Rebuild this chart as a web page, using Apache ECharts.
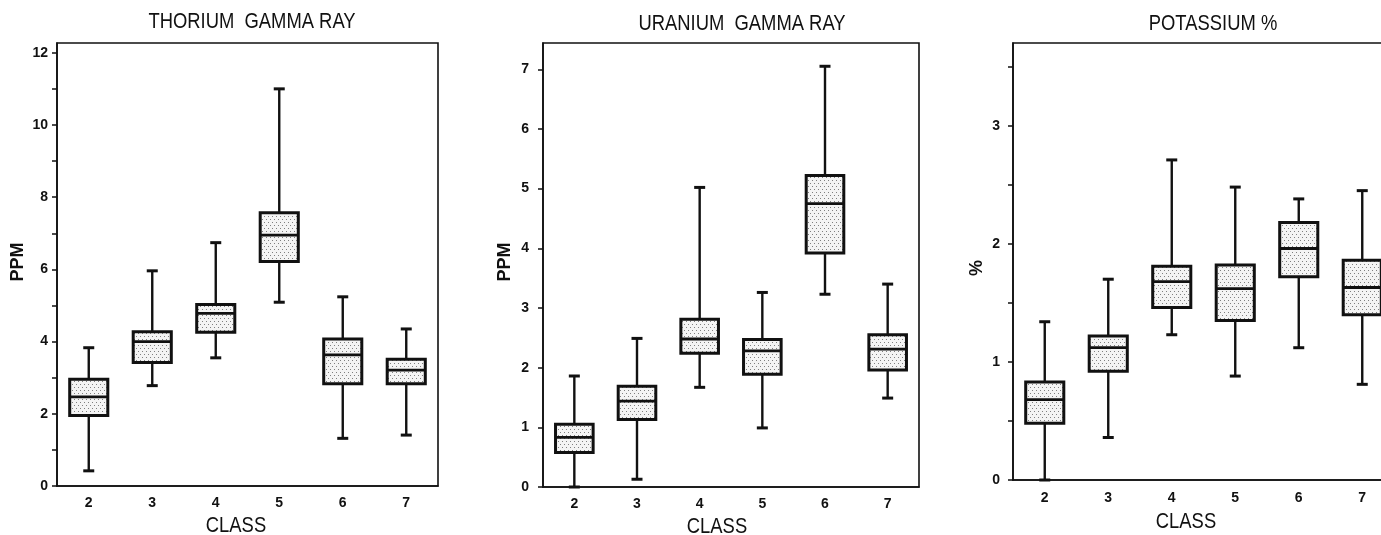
<!DOCTYPE html>
<html><head><meta charset="utf-8">
<script src="https://cdn.jsdelivr.net/npm/echarts@6/dist/echarts.min.js"></script>
<style>html,body{margin:0;padding:0;background:#fff}#c{width:1381px;height:535px}</style>
</head><body><div id="c"></div>
<script>
// Classes on the x axis
const classes = ['2', '3', '4', '5', '6', '7'];
// Each row: [low whisker, Q1, median, Q3, high whisker]
const thorium = [
  [0.42, 1.95, 2.47, 2.96, 3.83],
  [2.78, 3.42, 4.00, 4.27, 5.96],
  [3.55, 4.26, 4.78, 5.03, 6.74],
  [5.09, 6.22, 6.95, 7.57, 11.0],
  [1.32, 2.83, 3.63, 4.07, 5.24],
  [1.41, 2.83, 3.21, 3.51, 4.35]
];
const uranium = [
  [0.00, 0.58, 0.83, 1.05, 1.86],
  [0.13, 1.13, 1.44, 1.69, 2.49],
  [1.67, 2.24, 2.48, 2.81, 5.02],
  [0.99, 1.89, 2.28, 2.47, 3.26],
  [3.23, 3.92, 4.75, 5.22, 7.05],
  [1.49, 1.96, 2.31, 2.55, 3.40]
];
const potassium = [
  [0.00, 0.48, 0.68, 0.83, 1.34],
  [0.36, 0.92, 1.12, 1.22, 1.70],
  [1.23, 1.46, 1.68, 1.81, 2.71],
  [0.88, 1.35, 1.62, 1.82, 2.48],
  [1.12, 1.72, 1.96, 2.18, 2.38],
  [0.81, 1.40, 1.63, 1.86, 2.45]
];
// Tick values and tick labels
const thoriumTicks = [0,1,2,3,4,5,6,7,8,9,10,11,12];
const thoriumLabels = [0,2,4,6,8,10,12];
const uraniumTicks = [0,1,2,3,4,5,6,7];
const uraniumLabels = [0,1,2,3,4,5,6,7];
const potassiumTicks = [0,0.5,1,1.5,2,2.5,3,3.5];
const potassiumLabels = [0,1,2,3];
const titles = ['THORIUM  GAMMA RAY', 'URANIUM  GAMMA RAY', 'POTASSIUM %'];
const yNames = ['PPM', 'PPM', '%'];
const xName = 'CLASS';

const ink = '#111';
const FONT = '"Liberation Sans", Arial, Helvetica, sans-serif';

// stipple fill pattern
const pc = document.createElement('canvas');
pc.width = 4; pc.height = 6;
const pctx = pc.getContext('2d');
pctx.fillStyle = '#f4f4f4'; pctx.fillRect(0, 0, 4, 6);
pctx.fillStyle = '#808080'; pctx.fillRect(0, 0, 1, 1); pctx.fillRect(2, 3, 1, 1);
const stipple = { image: pc, repeat: 'repeat' };

function renderItem(params, api) {
  const i = api.value(0);
  const p = [1, 2, 3, 4, 5].map(k => api.coord([i, api.value(k)]));
  const cx = p[0][0];
  const bw = api.size([1, 0])[0] * 0.6;
  const cap = 11;
  return {
    type: 'group',
    children: [
      { type: 'line', shape: { x1: cx, y1: p[0][1], x2: cx, y2: p[1][1] }, style: { stroke: ink, lineWidth: 2.4 } },
      { type: 'line', shape: { x1: cx, y1: p[3][1], x2: cx, y2: p[4][1] }, style: { stroke: ink, lineWidth: 2.4 } },
      { type: 'line', shape: { x1: cx - cap / 2, y1: p[0][1], x2: cx + cap / 2, y2: p[0][1] }, style: { stroke: ink, lineWidth: 3 } },
      { type: 'line', shape: { x1: cx - cap / 2, y1: p[4][1], x2: cx + cap / 2, y2: p[4][1] }, style: { stroke: ink, lineWidth: 3 } },
      { type: 'rect', shape: { x: cx - bw / 2, y: p[3][1], width: bw, height: p[1][1] - p[3][1] }, style: { fill: stipple, stroke: ink, lineWidth: 3 } },
      { type: 'line', shape: { x1: cx - bw / 2, y1: p[2][1], x2: cx + bw / 2, y2: p[2][1] }, style: { stroke: ink, lineWidth: 2.8 } }
    ]
  };
}

const grids = [
  { left: 57, width: 381, top: 43, bottom: 49 },
  { left: 543, width: 376, top: 43, bottom: 48 },
  { left: 1013, width: 381, top: 43, bottom: 55 }
].map(g => Object.assign(g, {
  show: true, borderColor: ink, borderWidth: 1.6, backgroundColor: 'transparent',
  containLabel: false, outerBoundsMode: 'none'
}));

const yCfg = [
  { max: 12.27, interval: 1, ticks: thoriumTicks, labels: thoriumLabels, margin: 9 },
  { max: 7.44, interval: 1, ticks: uraniumTicks, labels: uraniumLabels, margin: 14 },
  { max: 3.70, interval: 0.5, ticks: potassiumTicks, labels: potassiumLabels, margin: 13 }
];

const xAxes = [0, 1, 2].map(g => ({
  type: 'category', gridIndex: g, data: classes,
  axisLine: { lineStyle: { color: ink, width: 1.6 } },
  axisTick: { length: 4, lineStyle: { color: ink, width: 1.5 } },
  axisLabel: { color: ink, fontSize: 14, fontWeight: 'bold', fontFamily: FONT, margin: g === 2 ? 11 : 10 },
  splitLine: { show: false }
}));

const yAxes = yCfg.map((c, g) => ({
  type: 'value', gridIndex: g, min: 0, max: c.max, interval: c.interval,
  axisLine: { show: true, lineStyle: { color: ink, width: 1.6 } },
  axisTick: { show: true, length: 5, customValues: c.ticks, lineStyle: { color: ink, width: 1.5 } },
  axisLabel: {
    color: ink, fontSize: 14, fontWeight: 'bold', fontFamily: FONT, margin: c.margin,
    customValues: c.labels,
    formatter: v => (c.labels.indexOf(+v) >= 0 ? String(v) : '')
  },
  splitLine: { show: false }
}));

const datasets = [thorium, uranium, potassium];
const series = datasets.map((d, g) => ({
  type: 'custom', xAxisIndex: g, yAxisIndex: g,
  renderItem: renderItem,
  encode: { x: 0, y: [1, 2, 3, 4, 5] },
  data: d.map((r, i) => [i].concat(r)),
  z: 3
}));

const titlePos = [[252, 22], [742, 24], [1213, 24]];
const classPos = [[236, 526], [717, 527], [1186, 522]];
const yNamePos = [[18, 262], [505, 262], [977, 268]];

const graphic = [];
titles.forEach((t, k) => graphic.push({
  type: 'text', x: titlePos[k][0], y: titlePos[k][1], scaleX: 0.92, scaleY: 1.08,
  style: { text: t, fill: ink, font: '20px ' + FONT, align: 'center', verticalAlign: 'middle' }
}));
classPos.forEach(p => graphic.push({
  type: 'text', x: p[0], y: p[1], scaleX: 0.92, scaleY: 1.08,
  style: { text: xName, fill: ink, font: '20px ' + FONT, align: 'center', verticalAlign: 'middle' }
}));
yNames.forEach((t, k) => graphic.push({
  type: 'text', x: yNamePos[k][0], y: yNamePos[k][1], rotation: Math.PI / 2,
  style: { text: t, fill: ink, font: 'bold 18px ' + FONT, align: 'center', verticalAlign: 'middle' }
}));

const chart = echarts.init(document.getElementById('c'), null, { renderer: 'canvas' });
chart.setOption({
  animation: false,
  backgroundColor: '#fff',
  grid: grids,
  xAxis: xAxes,
  yAxis: yAxes,
  series: series,
  graphic: graphic
});
</script>
</body></html>
